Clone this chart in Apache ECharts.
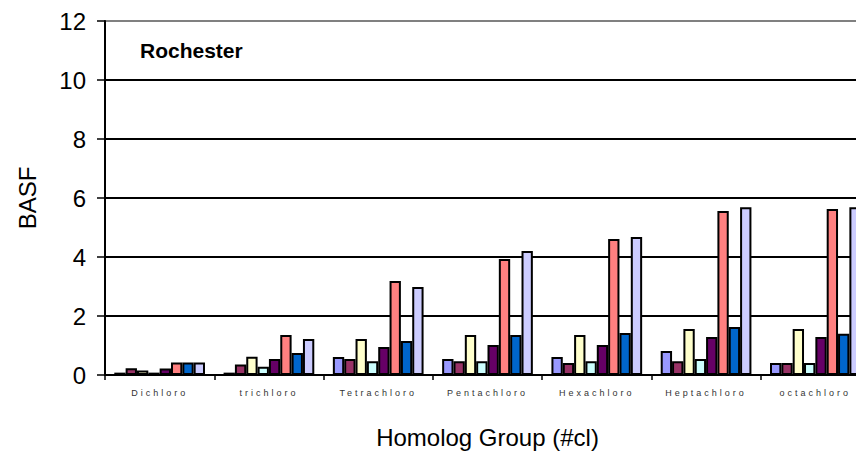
<!DOCTYPE html>
<html>
<head>
<meta charset="utf-8">
<script src="https://cdn.jsdelivr.net/npm/echarts@6/dist/echarts.min.js"></script>
<style>
  html, body { margin: 0; padding: 0; background: #fff; overflow: hidden; }
  #chart { width: 856px; height: 451px; }
  /* widely tracked category labels (the only 9px text on the chart) */
  #chart text[style*="9px"] { letter-spacing: 3px; }
</style>
</head>
<body>
<div id="chart"></div>
<script>
// Homolog groups on the category axis
const categories = ['Dichloro', 'trichloro', 'Tetrachloro', 'Pentachloro', 'Hexachloro', 'Heptachloro', 'octachloro'];

// BASF values, one array per series
const series1 = [0.08, 0.08, 0.61, 0.54, 0.61, 0.81, 0.41];
const series2 = [0.23, 0.36, 0.54, 0.47, 0.41, 0.47, 0.41];
const series3 = [0.15, 0.62, 1.22, 1.36, 1.36, 1.56, 1.56];
const series4 = [0.08, 0.28, 0.47, 0.47, 0.47, 0.54, 0.41];
const series5 = [0.22, 0.54, 0.95, 1.02, 1.02, 1.29, 1.29];
const series6 = [0.42, 1.36, 3.19, 3.93, 4.61, 5.56, 5.63];
const series7 = [0.42, 0.75, 1.15, 1.36, 1.42, 1.63, 1.40];
const series8 = [0.42, 1.22, 2.98, 4.20, 4.68, 5.69, 5.69];

const yTicks = [0, 2, 4, 6, 8, 10, 12];

const seriesData = [series1, series2, series3, series4, series5, series6, series7, series8];
const colors = ['#9999FF', '#993366', '#FFFFCC', '#CCFFFF', '#660066', '#FF8080', '#0066CC', '#CCCCFF'];

const FONT = 'Liberation Sans, Arial, sans-serif';
const chart = echarts.init(document.getElementById('chart'), null, { renderer: 'svg' });

chart.setOption({
  animation: false,
  backgroundColor: '#ffffff',
  textStyle: { fontFamily: FONT },
  title: {
    text: 'Rochester',
    left: 135,
    top: 35,
    textStyle: { fontSize: 21, fontWeight: 'bold', color: '#000', fontFamily: FONT }
  },
  // the plot area runs past the right edge of the page
  grid: { left: 105, top: 21, width: 765, bottom: 76, containLabel: false, outerBoundsMode: 'none' },
  xAxis: {
    type: 'category',
    data: categories,
    name: 'Homolog Group (#cl)',
    nameLocation: 'middle',
    nameGap: 50,
    nameTextStyle: { fontSize: 24, color: '#000' },
    axisLine: { show: true, lineStyle: { color: '#000', width: 2 } },
    axisTick: { show: true, alignWithLabel: false, length: 5, lineStyle: { color: '#000', width: 1.5 } },
    axisLabel: { fontSize: 9, color: '#333', margin: 13, interval: 0 },
    splitLine: { show: false }
  },
  yAxis: {
    type: 'value',
    min: yTicks[0],
    max: yTicks[yTicks.length - 1],
    interval: 2,
    name: 'BASF',
    nameLocation: 'middle',
    nameGap: 66,
    nameRotate: 90,
    nameTextStyle: { fontSize: 24, color: '#000' },
    axisLine: { show: true, lineStyle: { color: '#000', width: 2 } },
    axisTick: { show: true, inside: false, length: 8, lineStyle: { color: '#000', width: 1.5 } },
    axisLabel: { fontSize: 24, color: '#000', margin: 19 },
    splitLine: {
      show: true,
      lineStyle: { color: ['#000', '#000', '#000', '#000', '#000', '#000', '#808080'], width: 2 }
    }
  },
  series: seriesData.map((d, i) => ({
    name: 'Series ' + (i + 1),
    type: 'bar',
    data: d,
    barGap: '0%',
    barCategoryGap: '17%',
    itemStyle: { color: colors[i], borderColor: '#000', borderWidth: 2 }
  }))
});
</script>
</body>
</html>
